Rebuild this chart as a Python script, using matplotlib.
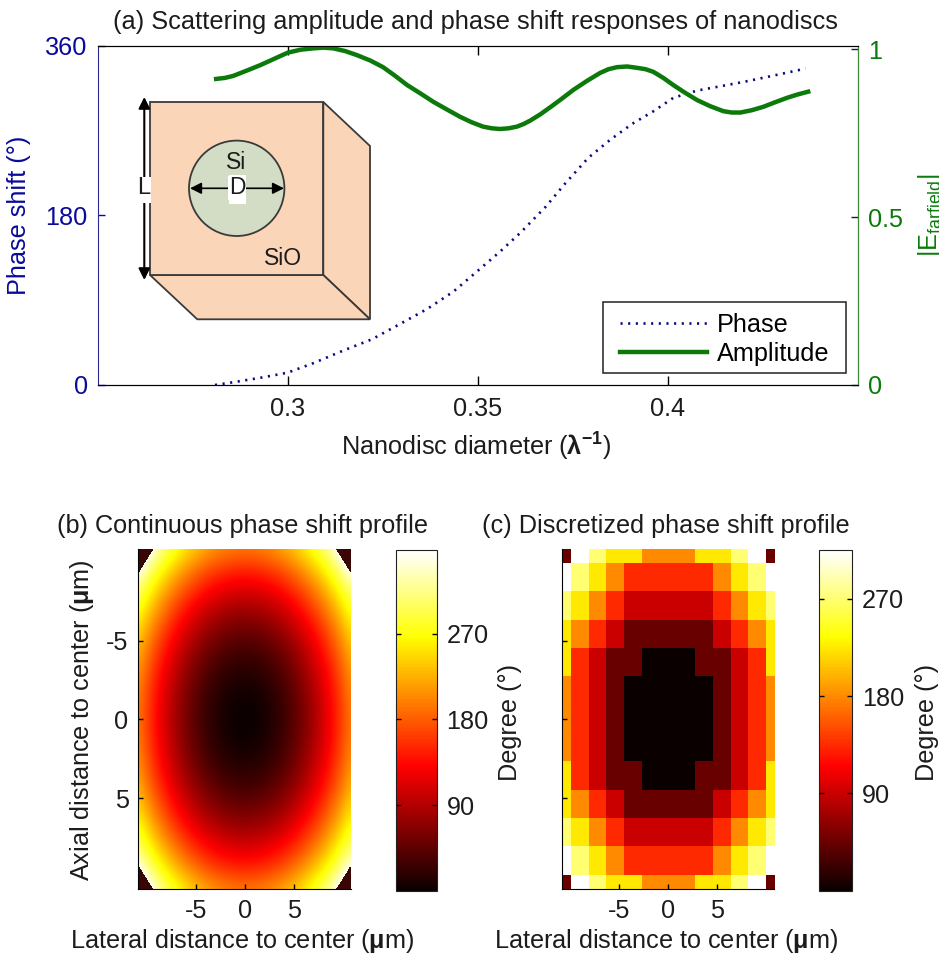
import numpy as np
import matplotlib
matplotlib.use("Agg")
import matplotlib.pyplot as plt
from matplotlib.patches import Polygon, Circle, Rectangle

plt.rcParams['font.family'] = ['Liberation Sans', 'DejaVu Sans']
plt.rcParams['mathtext.fontset'] = 'custom'
plt.rcParams['mathtext.rm'] = 'Liberation Sans'
plt.rcParams['mathtext.it'] = 'Liberation Sans'
plt.rcParams['mathtext.bf'] = 'Liberation Sans:bold'
plt.rcParams['axes.unicode_minus'] = False

W, H = 939, 955
FS = 18.2
INK = '#1c1c1c'
BLUE = '#0a0a9a'
GREEN = '#0b7a0b'

# --- panel (a) curves ---
phase_x = [0.2809, 0.2866, 0.2936, 0.3000, 0.3067, 0.3146, 0.3222, 0.3296, 0.3366, 0.3436,
           0.3501, 0.3559, 0.3612, 0.3678, 0.3730, 0.3791, 0.3849, 0.3906, 0.3962, 0.4014,
           0.4077, 0.4138, 0.4208, 0.4270, 0.4362]
phase_y = [0, 3.5, 8.2, 13.1, 23.1, 36.5, 48.6, 64.9, 80.5, 99.2,
           121.6, 141.8, 161.6, 189, 214, 241.4, 260.6, 277.3, 290.7, 304.9,
           312.7, 317.2, 322.6, 327.9, 336]
amp_x = [0.2812, 0.2835, 0.2857, 0.2893, 0.2928, 0.2965, 0.3000, 0.3034, 0.3068, 0.3094,
         0.3120, 0.3151, 0.3182, 0.3217, 0.3251, 0.3283, 0.3314, 0.3349, 0.3383, 0.3419,
         0.3454, 0.3484, 0.3514, 0.3537, 0.3559, 0.3581, 0.3603, 0.3621, 0.3638, 0.3665,
         0.3691, 0.3721, 0.3751, 0.3787, 0.3822, 0.3844, 0.3866, 0.3893, 0.3919, 0.3941,
         0.3962, 0.3988, 0.4014, 0.4045, 0.4077, 0.4111, 0.4146, 0.4168, 0.4191, 0.4221,
         0.4251, 0.4283, 0.4314, 0.4342, 0.4369]
amp_y = [0.911, 0.914, 0.920, 0.936, 0.952, 0.971, 0.989, 0.998, 1.002, 1.004,
         1.002, 0.994, 0.982, 0.966, 0.946, 0.920, 0.893, 0.868, 0.843, 0.820,
         0.798, 0.782, 0.769, 0.764, 0.762, 0.764, 0.769, 0.777, 0.787, 0.806,
         0.827, 0.852, 0.878, 0.905, 0.929, 0.940, 0.946, 0.948, 0.944, 0.940,
         0.932, 0.914, 0.893, 0.870, 0.848, 0.830, 0.815, 0.811, 0.811, 0.818,
         0.828, 0.842, 0.855, 0.865, 0.873]

# --- panel (b): one quadrant of the profile, centre at [0][0], step 1.08 um ---
# above 358 the phase wraps round, those are the dark corners
continuous_q = [
    [0, 2, 8, 18, 31, 49, 70, 96, 125, 158, 195],
    [2, 4, 10, 20, 33, 51, 72, 98, 127, 160, 197],
    [8, 10, 16, 25, 39, 57, 78, 104, 133, 166, 203],
    [18, 20, 25, 35, 49, 66, 88, 113, 142, 175, 213],
    [31, 33, 39, 49, 62, 80, 101, 127, 156, 189, 226],
    [49, 51, 57, 66, 80, 98, 119, 144, 174, 207, 244],
    [70, 72, 78, 88, 101, 119, 140, 166, 195, 228, 265],
    [96, 98, 104, 113, 127, 144, 166, 191, 220, 254, 291],
    [125, 127, 133, 142, 156, 174, 195, 220, 250, 283, 320],
    [158, 160, 166, 175, 189, 207, 228, 254, 283, 316, 375],
    [195, 197, 203, 213, 226, 244, 265, 291, 320, 375, 420],
]

# --- panel (c): discretized phases, 45 degree levels ---
discrete = [
    [45, 315, 270, 225, 225, 180, 180, 180, 225, 225, 270, 315, 45],
    [315, 270, 225, 180, 135, 135, 135, 135, 135, 180, 225, 270, 315],
    [270, 225, 180, 135, 90, 90, 90, 90, 90, 135, 180, 225, 270],
    [225, 180, 135, 90, 45, 45, 45, 45, 45, 90, 135, 180, 225],
    [225, 135, 90, 45, 45, 0, 0, 0, 45, 45, 90, 135, 225],
    [180, 135, 90, 45, 0, 0, 0, 0, 0, 45, 90, 135, 180],
    [180, 135, 90, 45, 0, 0, 0, 0, 0, 45, 90, 135, 180],
    [180, 135, 90, 45, 0, 0, 0, 0, 0, 45, 90, 135, 180],
    [225, 135, 90, 45, 45, 0, 0, 0, 45, 45, 90, 135, 225],
    [225, 180, 135, 90, 45, 45, 45, 45, 45, 90, 135, 180, 225],
    [270, 225, 180, 135, 90, 90, 90, 90, 90, 135, 180, 225, 270],
    [315, 270, 225, 180, 135, 135, 135, 135, 135, 180, 225, 270, 315],
    [45, 315, 270, 225, 225, 180, 180, 180, 225, 225, 270, 315, 45],
]

fig = plt.figure(figsize=(W / 100, H / 100), dpi=100)


def px_axes(x0, y0, x1, y1, **kw):
    # axes from pixel corners, y counted from the top of the image
    return fig.add_axes([x0 / W, 1 - y1 / H, (x1 - x0) / W, (y1 - y0) / H], **kw)


def px_text(x, y, s, **kw):
    kw.setdefault('fontsize', FS)
    kw.setdefault('color', INK)
    kw.setdefault('ha', 'center')
    kw.setdefault('va', 'center')
    return fig.text(x / W, 1 - y / H, s, **kw)


# --- (a) ---
ax1 = px_axes(97.5, 46, 858, 385)
ax1.plot(phase_x, phase_y, color='#0a0a80', lw=1.9, linestyle=(0, (0.8, 2.1)), label='Phase')
ax1.set_xlim(0.25, 0.45)
ax1.set_ylim(0, 360)
ax1.set_xticks([0.3, 0.35, 0.4])
ax1.set_xticklabels(['0.3', '0.35', '0.4'])
ax1.set_yticks([0, 180, 360])
ax1.tick_params(axis='x', direction='in', length=6.5, width=1, top=True, labelsize=FS, pad=9, labelcolor=INK)
ax1.tick_params(axis='y', direction='in', length=5, width=1, color=BLUE, labelsize=FS, pad=7, labelcolor=BLUE)
ax1.spines['left'].set_color('#2a2a90')

ax2 = ax1.twinx()
ax2.plot(amp_x, amp_y, color=GREEN, lw=3.2, label='Amplitude')
ax2.set_ylim(0, 1.009)
ax2.set_yticks([0, 0.5, 1])
ax2.set_yticklabels(['0', '0.5', '1'])
ax2.tick_params(axis='y', direction='in', length=5, width=1, color='#16165a', labelsize=FS, pad=7, labelcolor=GREEN)
ax2.spines['right'].set_color('#3f8a3f')
ax2.spines['left'].set_visible(False)

handles = ax1.get_lines() + ax2.get_lines()
ax2.legend(handles, [h.get_label() for h in handles], loc='lower left',
           bbox_to_anchor=(620 / W, 1 - 366 / H), bbox_transform=fig.transFigure,
           fontsize=FS, frameon=False, borderaxespad=0, borderpad=0,
           handlelength=3.45, handletextpad=0.4, labelspacing=0.2)

px_text(475, 22, '(a) Scattering amplitude and phase shift responses of nanodiscs', fontsize=18.3)
px_text(476, 447, 'Nanodisc diameter ($\\mathbf{\\lambda^{-1}}$)')
px_text(19, 215, 'Phase shift (°)', color=BLUE, rotation=90)
px_text(916, 215, '|E$_{\\mathrm{farfield}}$|', color=GREEN, rotation=90, ha='left')

# --- (b) ---
q = np.array(continuous_q, dtype=float)
top = np.hstack([q[:, :0:-1], q])
cont = np.vstack([top[:0:-1], top])
pos = 1.08 * np.arange(-10, 11)

ax_b = px_axes(138.3, 549.3, 351, 889.3)
im_b = ax_b.imshow(cont, cmap='hot', vmin=0, vmax=358, aspect='auto', interpolation='bicubic',
                   extent=[-11.34, 11.34, 11.34, -11.34])
ax_b.contourf(pos, pos, cont, levels=[358, 500], colors=['#3a0505'])
ax_b.set_xlim(-10.85, 10.85)
ax_b.set_ylim(10.8, -10.8)

# --- (c) ---
ax_c = px_axes(561.7, 549.3, 774.3, 889.3)
im_c = ax_c.imshow(np.array(discrete), cmap='hot', vmin=0, vmax=315, aspect='auto',
                   interpolation='nearest', extent=[-11.7, 11.7, 11.7, -11.7])
ax_c.set_xlim(-10.8, 10.8)
ax_c.set_ylim(10.8, -10.8)

for ax in (ax_b, ax_c):
    ax.set_xticks([-5, 0, 5])
    ax.set_yticks([-5, 0, 5])
    ax.tick_params(direction='in', length=3.5, width=1, labelsize=FS, pad=7, labelcolor=INK)
    ax.spines['top'].set_visible(False)
    ax.spines['right'].set_visible(False)
    ax.set_axisbelow(False)
ax_c.tick_params(axis='y', labelleft=False)

px_text(243, 526, '(b) Continuous phase shift profile')
px_text(666, 526, '(c) Discretized phase shift profile')
px_text(242, 941, 'Lateral distance to center ($\\mathbf{\\mu}$m)')
px_text(666, 941, 'Lateral distance to center ($\\mathbf{\\mu}$m)')
px_text(82, 720, 'Axial distance to center ($\\mathbf{\\mu}$m)', rotation=90)

# --- colorbars ---
for im, rect, lab_x in ((im_b, (396, 550, 436.7, 890.7), 510), (im_c, (819, 550, 852.3, 890.7), 926.7)):
    cax = px_axes(*rect)
    cb = fig.colorbar(im, cax=cax, ticks=[90, 180, 270])
    cb.ax.tick_params(direction='in', length=3.5, width=1, left=True, right=True,
                      labelsize=FS, pad=7, labelcolor=INK)
    cb.outline.set_edgecolor('#222222')
    px_text(lab_x, 722, 'Degree (°)', rotation=90)

# --- nanodisc sketch and legend box on top of panel (a), in image pixels ---
ov = fig.add_axes([0, 0, 1, 1], zorder=10)
ov.set_xlim(0, W)
ov.set_ylim(H, 0)
ov.axis('off')
PEACH = '#fbd5b8'
EDGE = '#3a3a3a'
ov.add_patch(Rectangle((603, 302.3), 242.7, 70.4, fc='none', ec='#222222', lw=1.1))
ov.add_patch(Polygon([(323.3, 102), (370, 146), (370, 319.3), (323.3, 275)], fc=PEACH, ec=EDGE, lw=1.3))
ov.add_patch(Polygon([(150, 275), (323.3, 275), (370, 319.3), (197.3, 319.3)], fc=PEACH, ec=EDGE, lw=1.3))
ov.add_patch(Rectangle((150, 102), 173.3, 173, fc=PEACH, ec=EDGE, lw=1.3))
ov.add_patch(Circle((236.7, 188.3), 47.7, fc='#d3dcc4', ec=EDGE, lw=1.3))
ov.add_patch(Rectangle((229.3, 175), 16.7, 29, fc='white', ec='none'))
ov.annotate('', xy=(190, 188.3), xytext=(284, 188.3),
            arrowprops=dict(arrowstyle='<|-|>', color='black', lw=1.2, shrinkA=0, shrinkB=0, mutation_scale=17))
ov.annotate('', xy=(144.3, 97), xytext=(144.3, 280),
            arrowprops=dict(arrowstyle='<|-|>', color='black', lw=1.5, shrinkA=0, shrinkB=0, mutation_scale=17))
ov.add_patch(Rectangle((138, 176.7), 12.6, 26.3, fc='white', ec='none', zorder=5))
ov.text(143.5, 188, 'L', fontsize=17, color=INK, ha='center', va='center', zorder=6)
ov.text(236, 162.5, 'Si', fontsize=16.5, color=INK, ha='center', va='center')
ov.text(237, 188, 'D', fontsize=16.5, color=INK, ha='center', va='center',
        bbox=dict(fc='white', ec='none', pad=0.5))
ov.text(283, 258, 'SiO', fontsize=16.5, color=INK, ha='center', va='center')

fig.savefig('out.png', dpi=100)
